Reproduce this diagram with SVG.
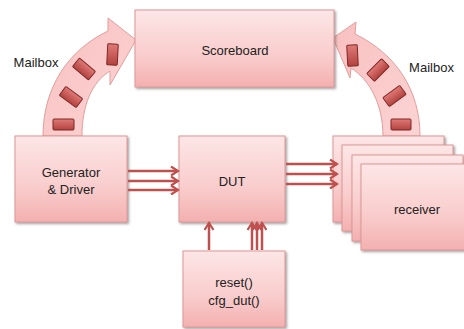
<svg xmlns="http://www.w3.org/2000/svg" width="464" height="329" viewBox="0 0 464 329">
<style>
.box{fill:url(#boxg);stroke:#dc9896;stroke-width:1;filter:url(#sh)}
.arc{fill:url(#arcg);stroke:#e39d9b;stroke-width:1}
.mb{fill:url(#mbg);stroke:#7d2624;stroke-width:1}
.lbl{font-family:"Liberation Sans",Arial,sans-serif;font-size:13px;fill:#222;text-anchor:middle}
.con{stroke:#c0504d;stroke-width:2.5;fill:none;marker-end:url(#ah)}
</style>
<defs>
<linearGradient id="boxg" x1="0" y1="0" x2="0" y2="1">
<stop offset="0" stop-color="#fde6e6"/>
<stop offset="0.6" stop-color="#f9cccc"/>
<stop offset="1" stop-color="#f4b0b0"/>
</linearGradient>
<linearGradient id="arcg" x1="0" y1="0" x2="1" y2="1">
<stop offset="0" stop-color="#f9c0c0"/>
<stop offset="1" stop-color="#fbd4d4"/>
</linearGradient>
<linearGradient id="mbg" x1="0" y1="0" x2="0" y2="1">
<stop offset="0" stop-color="#e07a77"/>
<stop offset="1" stop-color="#b2423f"/>
</linearGradient>
<filter id="sh" x="-10%" y="-10%" width="125%" height="125%">
<feDropShadow dx="1.5" dy="1.5" stdDeviation="0.8" flood-color="#555" flood-opacity="0.55"/>
</filter>
<marker id="ah" markerWidth="10" markerHeight="10" refX="8" refY="5" orient="auto" markerUnits="userSpaceOnUse">
<path d="M1,0.5 L8,5 L1,9.5" fill="none" stroke="#c0504d" stroke-width="2.2"/>
</marker>
</defs>

<g id="mailbox-left">
<path class="arc" d="M43,136 C43,88 68,50 108,31 L108,18 L136,40 L110,85 L110,71 C92,82 82,105 82,136 Z"/>
<rect class="mb" x="53" y="119" width="21" height="11" rx="1"/>
<rect class="mb" x="-10.5" y="-5.5" width="21" height="11" rx="1" transform="translate(71,97) rotate(36)"/>
<rect class="mb" x="-10.5" y="-5.5" width="21" height="11" rx="1" transform="translate(84,69) rotate(40)"/>
<rect class="mb" x="-5.25" y="-10.5" width="10.5" height="21" rx="1" transform="translate(112.5,54.5) rotate(3)"/>
<text class="lbl" x="36" y="66.5">Mailbox</text>
</g>

<g id="mailbox-right">
<path class="arc" d="M420,136 C420,90 396,54 355,34 L356,22 L333,38 L350,78 L351,68 C370,80 383,105 383,136 Z"/>
<rect class="mb" x="391" y="119" width="20" height="11" rx="1"/>
<rect class="mb" x="-10.5" y="-5.5" width="21" height="11" rx="1" transform="translate(394.5,96) rotate(-36)"/>
<rect class="mb" x="-10.5" y="-5.5" width="21" height="11" rx="1" transform="translate(378,70) rotate(-45)"/>
<rect class="mb" x="-5.25" y="-10.5" width="10.5" height="21" rx="1" transform="translate(352.5,55.5) rotate(-3)"/>
<text class="lbl" x="431.5" y="71.5">Mailbox</text>
</g>

<g id="scoreboard">
<rect class="box" x="135" y="10" width="199" height="77"/>
<text class="lbl" x="235" y="55">Scoreboard</text>
</g>

<g id="generator">
<rect class="box" x="15" y="136" width="112" height="86"/>
<text class="lbl" x="71" y="176.5">Generator</text>
<text class="lbl" x="71" y="194">&amp; Driver</text>
</g>

<g id="dut">
<rect class="box" x="179" y="136" width="106" height="86"/>
<text class="lbl" x="232" y="185.5">DUT</text>
</g>

<g id="receiver">
<rect class="box" x="333" y="136" width="111" height="86"/>
<rect class="box" x="342" y="145" width="111" height="86"/>
<rect class="box" x="352" y="155" width="111" height="86"/>
<rect class="box" x="361" y="164" width="111" height="86"/>
<text class="lbl" x="417" y="213.5">receiver</text>
</g>

<g id="config">
<rect class="box" x="183" y="251" width="102" height="76"/>
<text class="lbl" x="234" y="287">reset()</text>
<text class="lbl" x="234" y="305">cfg_dut()</text>
</g>

<g id="connectors">
<line class="con" x1="128" y1="171" x2="178" y2="171"/>
<line class="con" x1="128" y1="181" x2="178" y2="181"/>
<line class="con" x1="128" y1="190" x2="178" y2="190"/>
<line class="con" x1="286" y1="164" x2="337" y2="164"/>
<line class="con" x1="286" y1="174" x2="337" y2="174"/>
<line class="con" x1="286" y1="184" x2="337" y2="184"/>
<line class="con" x1="209" y1="250" x2="209" y2="223"/>
<line class="con" x1="252" y1="250" x2="252" y2="223"/>
<line class="con" x1="257" y1="250" x2="257" y2="223"/>
<line class="con" x1="262" y1="250" x2="262" y2="223"/>
</g>
</svg>
